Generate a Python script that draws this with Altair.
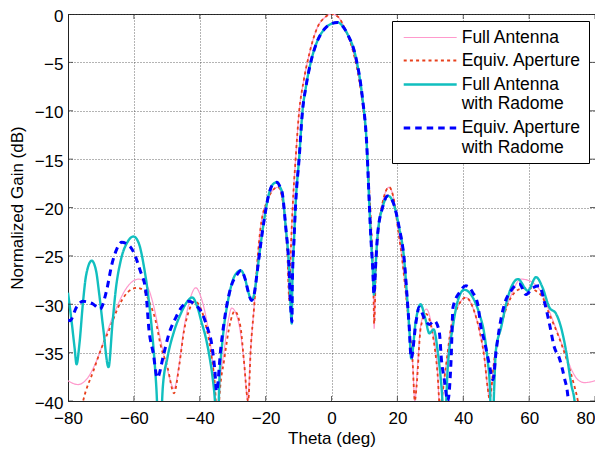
import altair as alt
import pandas as pd

# ---------------- data ----------------
series_names = ["Full Antenna", "Equiv. Aperture",
                "Full Antenna with Radome", "Equiv. Aperture with Radome"]

full_theta = [-80, -77, -74, -71.4, -68.4, -65.2, -62.2, -58.5, -56, -53.9, -52, -50, -47.8,
              -46.3, -44.8, -43.2, -41.2, -39.5, -38, -36.6, -35.3, -34.7, -34, -32.6, -31.3,
              -30.3, -29.2, -27.8, -26.6, -25.4, -24.6, -23.5, -22.5, -21.5, -19.5, -17.5, -16.2,
              -14.4, -13.4, -12.8, -12.4, -11.8, -10.9, -9.8, -8.5, -6.8, -4.3, -2, 0, 2, 4.3,
              6.5, 8.5, 9.7, 10.8, 11.6, 12.3, 12.7, 12.95, 13.5, 14.2, 15.5, 17.5, 19, 20.1,
              21.5, 22.6, 23.6, 24.6, 25.3, 26.2, 27.1, 28.8, 30.7, 32.2, 32.8, 34.7, 36.3,
              38.3, 40.8, 43.3, 44.9, 46.4, 47.4, 48, 49.4, 50.9, 52.5, 54.5, 57.5, 59.5,
              61.6, 64.1, 66, 67.7, 70.7, 72.8, 74.8, 76.9, 80]
full_gain = [-37.9, -38.3, -37.6, -35.9, -33.1, -30.3, -28.3, -27.4, -28.1, -30.3, -33.5, -36.5, -38.7,
             -36.3, -32.5, -29.8, -28.3, -29.4, -31.5, -34.5, -39.5, -44, -39, -34.8, -31.6,
             -30.4, -30.8, -32.6, -35.8, -40, -35, -30.3, -25.5, -22, -19.3, -18.1, -17.9,
             -20.3, -24.8, -29.6, -25, -20, -15, -10, -7, -4.2, -1.4, -0.35, 0, -0.3, -1.7,
             -3.8, -7, -10, -14, -19, -24, -28, -32.5, -26, -22.5, -19.5, -17.9, -19.3, -22,
             -25.5, -29, -32.5, -35.8, -40, -36, -32.2, -30.5, -32.8, -37, -40.5, -36.5, -32.4,
             -30.3, -29.3, -30.7, -32.7, -35.5, -38.6, -39.8, -35.8, -33.1, -31, -29.1, -27.4, -27.5,
             -27.9, -29, -30.6, -32.1, -34.8, -36.7, -37.8, -38.1, -37.9]

equiv_theta = [-78, -75.4, -72.3, -69.8, -67.2, -64.6, -62, -59, -56.9, -55.4, -53.4, -51.9, -49.8,
               -47.8, -46.3, -44.8, -43.3, -41.5, -39.5, -38, -36.4, -35.2, -34.7, -34, -32.6,
               -30.6, -29.4, -27.6, -26.6, -25.3, -24.5, -23.5, -22.5, -21.5, -19.5, -17.5, -16.2,
               -14.4, -13.4, -12.8, -12.4, -11.8, -10.9, -9.8, -8.5, -6.8, -4.3, -2, 0, 2, 4.3,
               6.5, 8.5, 9.7, 10.8, 11.6, 12.3, 12.7, 12.95, 13.5, 14.2, 15.5, 17.5, 19, 20.1,
               21.5, 22.6, 23.6, 24.6, 25.3, 25.8, 27.1, 28.7, 30.7, 32.2, 32.9, 34.7, 36.3,
               38.3, 40.8, 43.3, 44.9, 46.4, 47.4, 48, 49.4, 50.9, 52.5, 54.5, 57.5, 60,
               62, 64.1, 66.1, 68.7, 71.2, 73.3, 74.8, 76.5]
equiv_gain = [-45, -40, -36.9, -34.5, -32.4, -30.2, -28.8, -28.3, -28.6, -29.7, -31.7, -34.2, -36.5,
              -39.2, -36.5, -32.8, -30.7, -29.7, -30.6, -32.4, -35.5, -39.5, -44, -39.5, -35.8,
              -31.7, -30.7, -32.4, -35.8, -40, -34.5, -30.3, -25.5, -22, -19.3, -18.1, -17.9,
              -20.3, -24.8, -29.6, -25, -20, -15, -10, -7, -4.2, -1.4, -0.35, 0, -0.3, -1.7,
              -3.8, -7, -10, -14, -19, -24, -28, -32, -26, -22.5, -19.5, -17.9, -19.3, -22,
              -25.5, -29, -32.5, -35.8, -40, -38.6, -32.4, -31, -33.1, -37.2, -40.5, -36.5, -32.4,
              -30.3, -29.3, -30.7, -32.7, -35.5, -38.6, -39.8, -35.8, -33.1, -31, -29.3, -28.4, -28.3,
              -28.6, -29.3, -31, -33.1, -35.5, -37.9, -40, -44]

radome_theta = [-80, -79, -78, -77.4, -76.5, -75.5, -74.5, -72.8, -71.5, -70.5, -69.3, -67.7,
                -66.5, -65.5, -64, -62, -60.1, -58.5, -57, -55.5, -54.3, -53.2, -52.2, -51.2,
                -49.8, -47.8, -45.8, -43.5, -42.3, -40.7, -39.5, -38.2, -37, -36.2, -35.3, -34.7,
                -34, -33.3, -32.6, -31.5, -30.6, -29.3, -27.5, -26.3, -25.2, -24.3, -23.5, -22.5,
                -21.5, -20.5, -19, -17.8, -16.6, -15.6, -14.9, -13.9, -12.9, -12.4, -12.1, -11.9,
                -11.4, -10.9, -9.8, -8.8, -7.8, -6.3, -4.3, -2, 0, 1.8, 3.5, 4.9, 7.4, 9.4, 10.7,
                11.4, 11.9, 12.5, 12.9, 13.4, 14, 15.5, 17.2, 18.5, 20.5, 22.1, 22.9, 23.6, 24.2,
                25.6, 27, 28.5, 29.7, 31, 32.3, 33.5, 34.3, 35.3, 36.8, 38.3, 40.3, 42.9, 44.9,
                46.4, 47.4, 48.1, 48.7, 49.4, 49.9, 51.5, 53, 54.5, 56.6, 59.6, 62.1, 64.1,
                66.1, 68.2, 69.7, 71.2, 72.8, 73.8, 74.6]
radome_gain = [-28.8, -31.5, -34.5, -36.2, -34, -30, -27, -25.5, -26.5, -29, -32.5, -36.5,
               -32, -28.5, -25.5, -23.6, -23.0, -23.7, -26, -29.5, -33.5, -38.5, -45, -38.5,
               -35.5, -32.8, -31, -29.6, -29.3, -30.3, -31.8, -33.4, -35.5, -37.3, -40.5, -45,
               -37.5, -34.5, -32.2, -29.8, -28.3, -27, -26.5, -27.3, -28.8, -29.6, -29, -26.5,
               -23.8, -21.4, -18.6, -17.6, -17.4, -17.9, -18.6, -22, -26.2, -30.3, -32, -28,
               -23.5, -19.7, -14.8, -10, -7.6, -5.0, -2.8, -1.5, -1.0, -0.87, -1.3, -2.1, -4.5,
               -8.7, -13.5, -19, -22.8, -26.2, -29, -26, -22.8, -20, -18.8, -19.3, -22, -25.5,
               -29, -32.4, -35.6, -31.7, -30, -31.5, -33, -32.6, -35, -39, -43, -36.5, -32.4,
               -29.7, -28.5, -29.3, -31, -33.1, -35.8, -38.6, -45, -38.6, -34.8, -32.4, -30,
               -28.3, -27.4, -28.6, -27.2, -28.3, -30.3, -31, -32.4, -34.8, -38.3, -40, -43]

equivr_theta = [-80, -79.4, -77.4, -75.5, -72.3, -70.3, -68.3, -66.7, -65.2, -63.7, -61, -58.1,
                -56.4, -55.4, -54.1, -52.9, -50.9, -49.4, -47.3, -45.3, -43.3, -41.5, -39.7,
                -37.7, -36.2, -35.4, -34.9, -33.6, -32.1, -30.6, -28.6, -27.5, -26.3, -25.2,
                -24.3, -23.5, -22.5, -21.5, -20.5, -19, -17.8, -16.6, -15.6, -14.9, -13.9, -12.9,
                -12.4, -12.0, -11.9, -11.4, -10.9, -9.8, -8.8, -7.8, -6.3, -4.3, -2, 0, 1.8, 3.5,
                4.9, 7.4, 9.4, 10.7, 11.4, 11.9, 12.5, 12.9, 13.4, 14, 15.5, 17, 18.5, 20.5,
                22.1, 22.9, 23.6, 24.2, 25.6, 26.6, 28.1, 29.7, 31.2, 32.7, 33.4, 34.3, 35.3,
                36.3, 36.9, 38.8, 40.8, 42.9, 44.4, 45.4, 46.4, 47.9, 49, 50, 51, 52.5, 54.5, 57,
                59.1, 61.1, 63.1, 64.6, 66.1, 67.7, 69.1, 70.7, 71.7, 72.4]
equivr_gain = [-31.6, -31.7, -30.3, -29.7, -30.0, -30.5, -28.6, -25.9, -24.3, -23.6, -24.1, -26.5,
               -28.6, -32.7, -35.1, -37.6, -35.1, -33.1, -31.4, -30.2, -29.7, -30.0, -30.7,
               -32.4, -34.5, -36.9, -39, -34.5, -30.7, -28.3, -26.9, -26.5, -27.3, -28.8,
               -29.6, -29, -26.5, -23.8, -21.4, -18.6, -17.6, -17.4, -17.9, -18.6, -22, -26.2,
               -30.3, -31.8, -28, -23.5, -19.7, -14.8, -10, -7.6, -5.0, -2.8, -1.5, -1.0, -0.87, -1.3,
               -2.1, -4.5, -8.7, -13.5, -19, -22.8, -26.2, -29, -26, -22.8, -20, -18.8, -19.3, -22,
               -25.5, -29, -32.4, -35.6, -32, -30.3, -31.4, -32.1, -31.7, -32.8, -35.8, -37.9, -40,
               -35.8, -30.3, -28.8, -28.1, -28.8, -30, -32.4, -33.8, -36.2, -37.8, -34.8, -32.4, -30.0,
               -28.6, -27.9, -29, -28.3, -28.1, -29.7, -31.9, -34.5, -35.5, -37.6, -39.3, -42]

x_ticks = [-80, -60, -40, -20, 0, 20, 40, 60, 80]
y_ticks = [0, -5, -10, -15, -20, -25, -30, -35, -40]
x_range = [-80, 80]
y_range = [-40, 0]

# ---------------- build table ----------------
frames = []
for i, (name, th, g) in enumerate(zip(series_names,
                                      [full_theta, equiv_theta, radome_theta, equivr_theta],
                                      [full_gain, equiv_gain, radome_gain, equivr_gain])):
    frames.append(pd.DataFrame({"theta": th, "gain": g, "series": name, "order": i}))
df = pd.concat(frames, ignore_index=True)

FONT = "Liberation Sans"
FS = 17
colors = ["#ff99cc", "#e8401c", "#11bfbf", "#0000ff"]
dashes = [[1, 0], [3, 3.2], [1, 0], [6.5, 5]]
widths = [1.2, 3, 5, 6.5]

label_expr = ("datum.label == 'Full Antenna with Radome' ? ['Full Antenna', ' with Radome'] : "
              "datum.label == 'Equiv. Aperture with Radome' ? ['Equiv. Aperture', ' with Radome'] : "
              "datum.label")

# symbol drawn as a 53px long stroke (custom path scaled by sqrt(size)/2)
legend = alt.Legend(title=None, orient="none", legendX=324, legendY=7,
                    fillColor="white", strokeColor="black", padding=7, rowPadding=4.5,
                    labelFont=FONT, labelFontSize=17.5, labelColor="black", labelLimit=300,
                    symbolType="M-3,0H3", symbolSize=312, symbolOffset=20.7, labelOffset=21,
                    labelExpr=label_expr)

xscale = alt.Scale(domain=x_range, nice=False, padding=0, zero=False)
yscale = alt.Scale(domain=y_range, nice=False, padding=0, zero=False)

base = alt.Chart(df).mark_line(clip=True, interpolate="monotone", strokeCap="butt").encode(
    x=alt.X("theta:Q", scale=xscale,
            axis=alt.Axis(values=x_ticks, title="Theta (deg)", grid=True, ticks=False,
                          tickSize=0, labelPadding=9, titlePadding=4, labelFlush=False,
                          labelAlign={"condition": {"test": "datum.value >= 80", "value": "right"},
                                      "value": "center"})),
    y=alt.Y("gain:Q", scale=yscale,
            axis=alt.Axis(values=y_ticks, title="Normalized Gain (dB)", grid=True, ticks=False,
                          tickSize=0, labelPadding=5, titlePadding=8, labelOffset=2,
                          labelFlush=False)),
    color=alt.Color("series:N", scale=alt.Scale(domain=series_names, range=colors), legend=legend),
    strokeDash=alt.StrokeDash("series:N", scale=alt.Scale(domain=series_names, range=dashes), legend=legend),
    strokeWidth=alt.StrokeWidth("series:N", scale=alt.Scale(domain=series_names, range=widths), legend=legend),
    order="order:Q",
)

layers = [base.transform_filter(alt.datum.series == n) for n in series_names]

# inward tick marks on all four sides (MATLAB box style)
xt = pd.DataFrame({"v": x_ticks})
yt = pd.DataFrame({"v": y_ticks})
tick_layers = []
for edge in y_range:
    tick_layers.append(alt.Chart(xt).mark_tick(clip=True, orient="vertical", size=10,
                                               thickness=1, color="#222").encode(
        x=alt.X("v:Q", scale=xscale), y=alt.datum(edge, scale=yscale)))
for edge in x_range:
    tick_layers.append(alt.Chart(yt).mark_tick(clip=True, orient="horizontal", size=10,
                                               thickness=1, color="#222").encode(
        y=alt.Y("v:Q", scale=yscale), x=alt.datum(edge, scale=xscale)))

chart = alt.layer(*layers, *tick_layers).properties(
    width=527, height=387,
    background="white",
    autosize=alt.AutoSizeParams(type="none"),
    padding={"left": 60, "top": 6, "right": 0, "bottom": 50},
).configure_view(stroke="#222", strokeWidth=1).configure_axis(
    labelFont=FONT, labelFontSize=FS, labelColor="black",
    titleFont=FONT, titleFontSize=FS, titleFontWeight="normal", titleColor="black",
    gridColor="#444", gridDash=[1, 2], gridOpacity=0.8, gridWidth=1,
    domainColor="#222",
)

chart.save("out.html", embed_options={"renderer": "svg", "actions": False})
